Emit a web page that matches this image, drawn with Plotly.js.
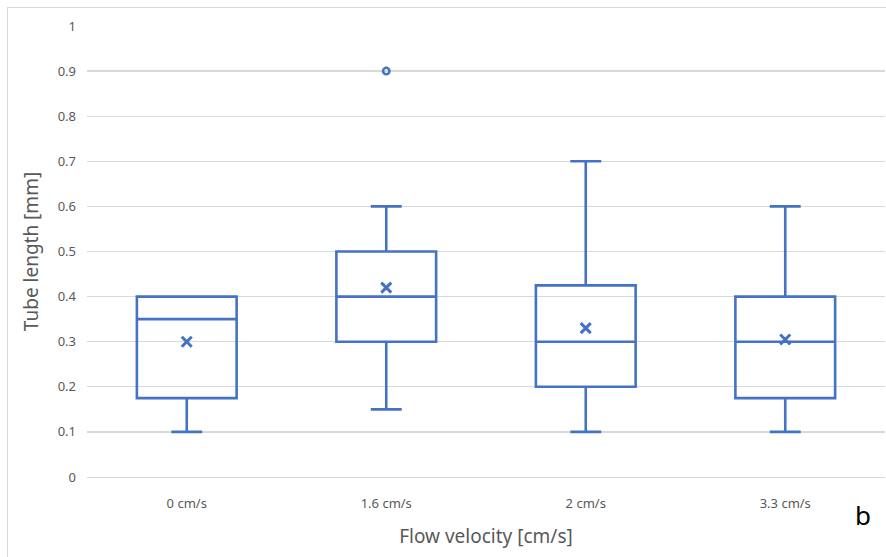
<!DOCTYPE html>
<html>
<head>
<meta charset="utf-8">
<script src="https://cdn.plot.ly/plotly-3.0.1.min.js"></script>
<style>
html,body{margin:0;padding:0;background:#fff;}
#wrap{position:relative;width:886px;height:557px;overflow:hidden;}
#chart{position:absolute;left:0;top:0;width:886px;height:557px;}
#frame{position:absolute;left:7px;top:7px;width:2000px;height:2000px;border-left:1px solid #d9d9d9;border-top:1px solid #d9d9d9;pointer-events:none;}
</style>
</head>
<body>
<div id="wrap"><div id="chart"></div><div id="frame"></div></div>
<script>
const categories = ['0 cm/s', '1.6 cm/s', '2 cm/s', '3.3 cm/s'];
const lowerWhisker = [0.1, 0.15, 0.1, 0.1];
const q1 = [0.175, 0.3, 0.2, 0.175];
const median = [0.35, 0.4, 0.3, 0.3];
const q3 = [0.4, 0.5, 0.425, 0.4];
const upperWhisker = [0.4, 0.6, 0.7, 0.6];
const means = [0.3, 0.42, 0.33, 0.305];
const outlierCats = ['1.6 cm/s'];
const outlierVals = [0.9];

const blue = '#4472C4';
const font = '"Noto Sans", "Open Sans", Arial, sans-serif';

const traces = [
  {
    type: 'box',
    x: categories,
    q1: q1, median: median, q3: q3,
    lowerfence: lowerWhisker, upperfence: upperWhisker,
    line: {color: blue, width: 2.6},
    fillcolor: 'rgba(255,255,255,0)',
    whiskerwidth: 0.31,
    boxpoints: false,
    hoverinfo: 'skip',
    showlegend: false
  },
  {
    type: 'scatter', mode: 'markers',
    x: categories, y: means,
    marker: {symbol: 'x-thin', size: 10, line: {color: blue, width: 3}},
    hoverinfo: 'skip', showlegend: false
  },
  {
    type: 'scatter', mode: 'markers',
    x: outlierCats, y: outlierVals,
    marker: {symbol: 'circle-open', size: 6.5, color: blue, line: {color: blue, width: 2.5}},
    hoverinfo: 'skip', showlegend: false
  }
];

const layout = {
  width: 886, height: 557,
  margin: {l: 87, r: 1, t: 26, b: 80},
  paper_bgcolor: 'rgba(0,0,0,0)',
  plot_bgcolor: '#fff',
  boxgap: 0.5, boxgroupgap: 0,
  font: {family: font, color: '#595959'},
  xaxis: {
    type: 'category',
    tickfont: {size: 13, color: '#595959', family: font},
    ticks: '', showgrid: false,
    showline: true, linecolor: '#d9d9d9', linewidth: 1.3,
    zeroline: false,
    ticklabelstandoff: 14,
    title: {text: 'Flow velocity [cm/s]', font: {size: 19, color: '#595959', family: font}, standoff: 18}
  },
  yaxis: {
    range: [0, 1],
    dtick: 0.1, tick0: 0,
    tickfont: {size: 13, color: '#595959', family: font},
    ticks: '', showline: false,
    gridcolor: '#d9d9d9', gridwidth: 1.3,
    zeroline: false,
    ticklabelstandoff: 10,
    title: {text: 'Tube length [mm]', font: {size: 19, color: '#595959', family: font}, standoff: 13}
  },
  annotations: [
    {text: 'b', xref: 'paper', yref: 'paper', x: 0.972, y: -0.085, xanchor: 'center', yanchor: 'middle',
     showarrow: false, font: {size: 26, color: '#000', family: font}}
  ]
};

Plotly.newPlot('chart', traces, layout, {displayModeBar: false, staticPlot: true});
</script>
</body>
</html>
